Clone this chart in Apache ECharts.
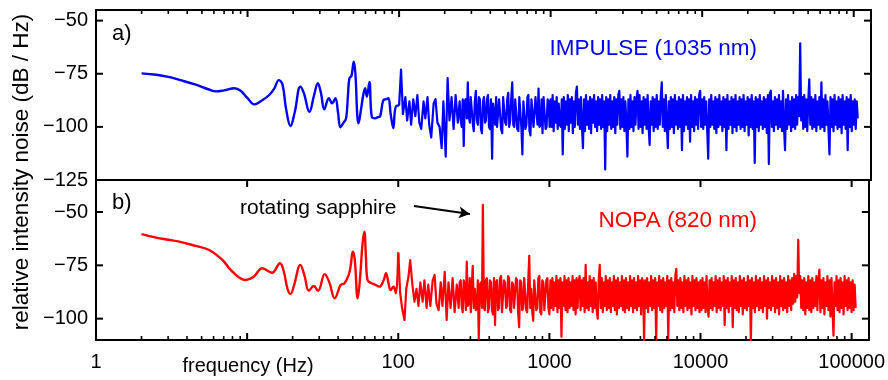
<!DOCTYPE html>
<html><head><meta charset="utf-8">
<script src="https://cdn.jsdelivr.net/npm/echarts@6/dist/echarts.min.js"></script>
<style>html,body{margin:0;padding:0;background:#fff}#c{width:888px;height:380px}</style>
</head><body><div id="c"></div>
<script>
// ---------- data ----------
const xMajorTicks = [1, 10, 100, 1000, 10000, 100000];
const xLabelTicks = [1, 100, 1000, 10000, 100000];
const xMinorTicks = [2,3,4,5,6,7,8,9, 20,30,40,50,60,70,80,90, 200,300,400,500,600,700,800,900,
  2000,3000,4000,5000,6000,7000,8000,9000, 20000,30000,40000,50000,60000,70000,80000,90000];
const yLabelsTop = [-125, -100, -75, -50];
const yTicksPanel = [-100, -75, -50];

// low-frequency part (smooth)
const blueLowFreq = [2,2.5,3,3.55,4.5,5.5,6.2,7,8.2,9,10,11.1,12.5,13.9,15,16.1,17,18,19.2,20.5,22.3,23.5,25.6,27.5,29.1,30.5,32.1,34.4,36.1,38,39.5,41,43,44.7,46,47,48.5,50.2,51.5,53,53.9,56,58,59.7,61.3,63.7,66,69.5,72,75,78.7,82,85,88,91.6,94,96.9,100];
const blueLowVal  = [-74.8,-75.5,-76.5,-77.9,-80,-82.3,-83.3,-82.8,-81.8,-83,-86.5,-89.4,-87.5,-85,-82,-78,-80,-92,-99.6,-93,-81.1,-84,-92.9,-85,-79.5,-84,-91.7,-86.5,-88.9,-86.5,-93,-100.2,-98,-96,-85,-77.1,-76,-69.3,-75,-95,-98.3,-92,-85,-81.8,-85.8,-78.8,-95.2,-96,-95.5,-95,-87.4,-87,-86.5,-94,-100.7,-92,-90,-90];
const redLowFreq = [2,2.5,3,3.55,4.5,5.6,6.86,8,9.8,11,12.6,14.6,16.5,17.5,18.5,19.4,20.5,22.5,24,25.6,27.6,29.5,32.6,35,38,41.6,44,47,48.5,50,51.5,53.9,56,58,59.7,61,62.6,66,70,75,80,83,86,89,93,96.5,100];
const redLowVal  = [-60.4,-62,-63,-63.9,-65.8,-67.8,-72.5,-78,-81.9,-80.5,-76.4,-78.5,-74,-78,-86,-88.4,-84,-74.8,-80,-86.9,-84.7,-86.9,-79.1,-83,-90.4,-84.2,-83.5,-79.5,-75,-68.6,-72,-90.5,-80,-65,-59.2,-70,-81.9,-83.3,-84,-85,-82,-78.7,-83,-86.6,-85,-88.1,-69];

// high-frequency (noise) part, shared frequency grid
const noiseFreq = [
  100,103,106,110,113,117,120,124,128,132,136,140,145,149,154,
  158,163,169,174,179,185,191,196,203,209,215,222,229,236,244,
  251,255,259,263,267,271,275,280,284,288,
  293,297,302,307,311,316,321,326,331,336,
  341,347,352,358,363,369,374,380,386,392,
  398,404,411,417,423,430,437,443,450,457,
  464,471,479,486,494,501,509,517,525,533,
  541,550,558,567,575,584,593,602,612,621,
  631,641,651,661,671,681,692,703,713,725,
  736,747,759,771,782,794,807,819,832,845,
  858,871,884,898,912,926,940,955,970,985,
  1000,1016,1031,1047,1063,1080,1096,1113,1131,1148,
  1166,1184,1202,1221,1240,1259,1279,1298,1318,1339,
  1359,1380,1402,1424,1445,1468,1491,1514,1537,1561,
  1585,1609,1634,1660,1685,1711,1738,1765,1792,1820,
  1848,1876,1905,1935,1965,1995,2026,2057,2089,2122,
  2154,2188,2222,2256,2291,2326,2362,2399,2436,2474,
  2512,2551,2590,2630,2671,2712,2754,2797,2840,2884,
  2929,2974,3020,3067,3114,3162,3211,3261,3311,3363,
  3415,3467,3521,3576,3631,3687,3744,3802,3861,3920,
  3981,4043,4105,4169,4233,4299,4365,4433,4501,4571,
  4642,4713,4786,4860,4936,5012,5089,5168,5248,5329,
  5412,5495,5580,5667,5754,5843,5934,6026,6119,6214,
  6310,6407,6506,6607,6709,6813,6918,7025,7134,7244,
  7356,7470,7586,7703,7822,7943,8066,8191,8318,8446,
  8577,8710,8844,8981,9120,9261,9404,9550,9698,9848,
  10000,10160,10310,10470,10630,10800,10960,11130,11310,11480,
  11660,11840,12020,12210,12400,12590,12790,12980,13180,13390,
  13590,13800,14020,14240,14450,14680,14910,15140,15370,15610,
  15850,16090,16340,16600,16850,17110,17380,17650,17920,18200,
  18480,18760,19050,19350,19650,19950,20260,20570,20890,21220,
  21540,21880,22220,22560,22910,23260,23620,23990,24360,24740,
  25120,25510,25900,26300,26710,27120,27540,27970,28400,28840,
  29290,29740,30200,30670,31140,31620,32110,32610,33110,33630,
  34150,34670,35210,35760,36310,36870,37440,38020,38610,39200,
  39810,40430,41050,41690,42330,42990,43650,44330,45010,45710,
  46420,47130,47860,48600,49360,50120,50890,51680,52480,53290,
  54120,54950,55800,56670,57540,58430,59340,60260,61190,62140,
  63100,64070,65060,66070,67090,68130,69180,70250,71340,72440,
  73560,74700,75860,77030,78220,79430,80660,81910,83180,84460,
  85770,87100,88440,89810,91200,92610,94040,95500,96980,98480,
  100000,101550,103100,104700,106300
];
const blueNoise = [
  -90,-73,-94,-86,-97,-88,-99,-87,-95,-85,-98,-101,-88,-96,-86,
  -99,-105,-89,-87,-98,-100,-110,-88,-114,-77,-97,-86,-101,-85,-98,
  -88,-97,-100,-87,-109,-88,-87,-96,-79,-95,
  -98,-86,-86,-99,-102,-88,-83,-97,-99,-86,
  -87,-101,-103,-88,-86,-98,-97,-87,-85,-100,
  -101,-87,-115,-89,-89,-99,-86,-100,-100,-87,
  -87,-101,-103,-86,-86,-98,-99,-87,-84,-100,
  -97,-86,-79,-99,-100,-87,-87,-101,-102,-86,
  -86,-100,-113,-88,-88,-101,-99,-86,-85,-102,
  -104,-87,-87,-100,-100,-86,-86,-99,-82,-100,
  -99,-87,-103,-86,-86,-101,-100,-87,-88,-100,
  -87,-100,-85,-102,-88,-98,-86,-101,-89,-99,
  -100,-87,-113,-86,-101,-88,-99,-85,-102,-87,
  -98,-86,-103,-88,-100,-84,-81,-99,-87,-101,
  -86,-100,-110,-87,-102,-85,-99,-88,-101,-86,
  -103,-87,-98,-85,-100,-88,-102,-86,-99,-87,
  -101,-85,-100,-88,-120,-86,-102,-87,-99,-85,
  -101,-88,-100,-86,-103,-87,-99,-85,-83,-101,
  -87,-100,-86,-102,-88,-99,-114,-87,-101,-85,
  -100,-88,-102,-86,-99,-87,-83,-101,-85,-100,
  -88,-103,-86,-99,-87,-101,-85,-100,-108.5,-88,
  -99,-86,-102,-87,-100,-85,-101,-88,-99,-86,
  -79,-100,-87,-102,-85,-99,-110,-88,-101,-86,
  -100,-87,-103,-85,-99,-88,-101,-86,-100,-87,
  -111,-85,-102,-88,-99,-86,-101,-87,-107,-85,
  -100,-88,-102,-86,-99,-87,-101,-85,-83,-100,
  -87,-101,-86,-99,-88,-102,-115,-87,-100,-85,
  -99,-88,-101,-86,-103,-87,-100,-85,-99,-88,
  -102,-86,-100,-87,-111,-85,-101,-88,-99,-86,
  -103,-87,-100,-85,-102,-88,-99,-86,-101,-87,
  -100,-85,-102,-88,-99,-86,-104,-87,-100,-85,
  -101,-88,-117,-86,-100,-87,-102,-85,-99,-88,
  -101,-86,-100,-87,-103,-85,-117.5,-84,-83,-100,
  -88,-102,-86,-99,-87,-101,-85,-100,-88,-102,
  -83,-100,-111,-87,-101,-85,-99,-88,-102,-86,
  -100,-87,-101,-85,-99,-86,-95,-60.7,-97,-86,
  -101,-85,-100,-87,-102,-88,-77.6,-99,-86,-101,
  -87,-100,-85,-102,-88,-99,-86,-101,-79,-100,
  -87,-102,-85,-99,-88,-101,-113,-86,-100,-87,
  -102,-85,-99,-88,-101,-86,-100,-87,-103,-85,
  -99,-88,-101,-86,-111,-87,-100,-85,-102,-88,
  -99,-87,-101,-88,-96
];
const redNoise = [
  -69,-88,-95,-100.6,-86,-80,-72.5,-84,-92,-86,-94,-83,-92,-82,-95,
  -84,-94,-82,-79.5,-93,-96,-83,-94,-78,-100.6,-83,-95,-81,-97,-84,
  -95,-83,-82,-94,-97,-82,-84,-96,-73.3,-94,
  -93,-81,-97,-84,-75.2,-95,-86,-96,-95,-82,
  -109.5,-84,-83,-95,-46.7,-95,-96,-82,-81,-97,
  -95,-82,-83,-96,-98,-81,-103,-83,-82,-96,
  -95,-81,-80,-97,-97,-82,-83,-95,-94,-80,
  -81,-96,-97,-83,-84,-95,-95,-81,-82,-97,
  -104,-82,-83,-96,-95,-81,-81,-96,-97,-82,
  -70.6,-95,-86,-97,-101,-82,-82,-96,-95,-81,
  -80,-97,-98,-82,-83,-96,-96,-82,-81,-95,
  -98,-82,-95,-81,-96,-83,-94,-80,-97,-82,
  -95,-81,-108.5,-83,-94,-80,-96,-82,-97,-81,
  -95,-83,-94,-80,-96,-82,-98,-81,-95,-83,
  -80,-96,-82,-94,-81,-97,-74.8,-95,-83,-96,
  -80,-94,-82,-97,-81,-95,-83,-96,-100,-82,
  -74.8,-95,-81,-97,-83,-94,-80,-96,-82,-95,
  -81,-97,-83,-94,-80,-96,-82,-98,-81,-95,
  -83,-94,-80,-96,-82,-97,-81,-95,-83,-96,
  -80,-94,-82,-97,-81,-95,-83,-96,-80,-94,
  -82,-98,-81,-83,-110,-82,-95,-81,-97,-83,
  -94,-80,-96,-82,-95,-81,-110,-83,-94,-80,
  -96,-82,-97,-81,-95,-83,-94,-80,-109.5,-82,
  -96,-81,-95,-83,-97,-80,-76.7,-94,-82,-96,
  -81,-95,-83,-97,-80,-94,-82,-96,-81,-95,
  -83,-98,-80,-94,-82,-96,-81,-95,-83,-97,
  -82,-96,-81,-95,-83,-97,-80,-94,-99,-82,
  -95,-81,-96,-83,-94,-80,-97,-82,-95,-81,
  -96,-83,-94,-80,-103,-82,-95,-81,-97,-83,
  -94,-80,-104,-82,-95,-81,-96,-83,-97,-80,
  -94,-82,-98,-81,-95,-83,-96,-80,-94,-82,
  -111.4,-81,-95,-83,-97,-80,-94,-82,-96,-81,
  -95,-83,-97,-80,-94,-82,-100,-81,-95,-83,
  -96,-80,-94,-82,-97,-81,-95,-83,-98,-80,
  -94,-82,-96,-81,-95,-83,-97,-80,-94,-82,
  -96,-81,-93,-79,-92,-80,-90,-63.1,-88,-80,
  -95,-82,-96,-81,-98,-83,-95,-80,-96,-82,
  -97,-81,-95,-83,-94,-80,-96,-82,-77,-97,
  -82,-95,-81,-98,-83,-94,-80,-96,-82,-99,
  -81,-95,-108,-83,-94,-80,-96,-82,-97,-81,
  -95,-83,-98,-80,-94,-82,-96,-81,-95,-83,
  -97,-82,-96,-84,-95
];

// ---------- chart ----------
const FONT = '"Liberation Sans", Arial, sans-serif';
const BLUE = '#0000ff', RED = '#ff0000';
const pair = (fs, vs) => fs.map((f, i) => [f, vs[i]]);
const minus = v => String(v).replace('-', '\u2212');
const X_MIN = 1, X_MAX = 130000;
const TOP_MIN = -125, TOP_MAX = -45, BOT_MIN = -110, BOT_MAX = -35;

function xAx(grid, pos, opts) {
  return Object.assign({
    type: 'log', logBase: 10, gridIndex: grid, position: pos, min: X_MIN, max: X_MAX,
    axisLine: { show: true, onZero: false, lineStyle: { color: '#000', width: 2 } },
    axisTick: { show: false },
    axisLabel: { show: false },
    splitLine: { show: false }, minorTick: { show: false }, minorSplitLine: { show: false }
  }, opts);
}
function yAx(grid, pos, min, max, labels) {
  return {
    type: 'value', gridIndex: grid, position: pos, min: min, max: max,
    axisLine: { show: true, onZero: false, lineStyle: { color: '#000', width: 2 } },
    axisTick: { show: false },
    axisLabel: labels ? { show: true, customValues: labels, formatter: minus, fontSize: 20, fontFamily: FONT, color: '#000', margin: 8 } : { show: false },
    splitLine: { show: false }
  };
}

// tick marks placed through the axes' own scales: small rect symbols at the frame, pushed inward
function tickMarks(xIdx, yIdx, points, size, offset) {
  return {
    type: 'scatter', xAxisIndex: xIdx, yAxisIndex: yIdx, data: points, clip: false, silent: true, z: 10,
    symbol: 'rect', symbolSize: size, symbolOffset: offset,
    itemStyle: { color: '#000', opacity: 1 }, emphasis: { disabled: true }, animation: false
  };
}
const xt = (vals, y) => vals.map(v => [v, y]);
const yt = (vals, x) => vals.map(v => [x, v]);

const option = {
  animation: false,
  backgroundColor: '#fff',
  grid: [
    { left: 96, top: 10, width: 775, height: 170 },
    { left: 96, top: 180, width: 775, height: 160 }
  ],
  xAxis: [
    xAx(0, 'bottom', {}),
    xAx(0, 'top', {}),
    xAx(1, 'bottom', {
      axisLabel: { show: true, customValues: xLabelTicks, formatter: v => String(v), fontSize: 20, fontFamily: FONT, color: '#000', margin: 12 } }),
    xAx(1, 'top', {})
  ],
  yAxis: [
    yAx(0, 'left', TOP_MIN, TOP_MAX, yLabelsTop),
    yAx(0, 'right', TOP_MIN, TOP_MAX, null),
    yAx(1, 'left', BOT_MIN, BOT_MAX, yTicksPanel),
    yAx(1, 'right', BOT_MIN, BOT_MAX, null)
  ],
  series: [
    { type: 'line', xAxisIndex: 0, yAxisIndex: 0, data: pair(blueLowFreq, blueLowVal), smooth: 0.4, showSymbol: false, symbol: 'none',
      lineStyle: { color: BLUE, width: 2.4 }, z: 3 },
    { type: 'line', xAxisIndex: 0, yAxisIndex: 0, data: pair(noiseFreq, blueNoise), showSymbol: false, symbol: 'none',
      lineStyle: { color: BLUE, width: 2.2, join: 'round' }, z: 3 },
    { type: 'line', xAxisIndex: 2, yAxisIndex: 2, data: pair(redLowFreq, redLowVal), smooth: 0.4, showSymbol: false, symbol: 'none',
      lineStyle: { color: RED, width: 2.4 }, z: 3 },
    { type: 'line', xAxisIndex: 2, yAxisIndex: 2, data: pair(noiseFreq, redNoise), showSymbol: false, symbol: 'none',
      lineStyle: { color: RED, width: 2.2, join: 'round' }, z: 3,
      markLine: { silent: true, symbol: ['none', 'arrow'], symbolSize: [9, 11], animation: false,
        lineStyle: { color: '#000', width: 2, type: 'solid' }, label: { show: false },
        data: [[{ coord: [127, -47.2] }, { coord: [298, -50.9] }]] } },
    // x ticks: top of panel a (major + minor), bottom of panel b (major + minor), top of panel b (major only)
    tickMarks(0, 0, xt(xMajorTicks, TOP_MAX), [2, 7], [0, 3.5]),
    tickMarks(0, 0, xt(xMinorTicks, TOP_MAX), [1.6, 4], [0, 2]),
    tickMarks(2, 2, xt(xMajorTicks, BOT_MIN), [2, 7], [0, -3.5]),
    tickMarks(2, 2, xt(xMinorTicks, BOT_MIN), [1.6, 4], [0, -2]),
    tickMarks(2, 2, xt(xMajorTicks, BOT_MAX), [2, 7], [0, 3.5]),
    // y ticks, inside on both sides
    tickMarks(0, 0, yt(yTicksPanel, X_MIN), [7, 2], [3.5, 0]),
    tickMarks(0, 0, yt(yTicksPanel, X_MAX), [7, 2], [-3.5, 0]),
    tickMarks(2, 2, yt(yTicksPanel, X_MIN), [7, 2], [3.5, 0]),
    tickMarks(2, 2, yt(yTicksPanel, X_MAX), [7, 2], [-3.5, 0])
  ],
  graphic: [
    { type: 'text', x: 22, y: 172, rotation: Math.PI / 2,
      style: { text: 'relative intensity noise (dB / Hz)', fontSize: 22.5, fontFamily: FONT, fill: '#000', align: 'center', verticalAlign: 'middle' } },
    { type: 'text', x: 248, y: 366,
      style: { text: 'frequency (Hz)', fontSize: 20, fontFamily: FONT, fill: '#000', align: 'center', verticalAlign: 'middle' } },
    { type: 'text', x: 112, y: 34,
      style: { text: 'a)', fontSize: 22, fontFamily: FONT, fill: '#000', align: 'left', verticalAlign: 'middle' } },
    { type: 'text', x: 112, y: 203,
      style: { text: 'b)', fontSize: 22, fontFamily: FONT, fill: '#000', align: 'left', verticalAlign: 'middle' } },
    { type: 'text', x: 757, y: 49,
      style: { text: 'IMPULSE (1035 nm)', fontSize: 22.5, fontFamily: FONT, fill: BLUE, align: 'right', verticalAlign: 'middle' } },
    { type: 'text', x: 757, y: 221,
      style: { text: 'NOPA (820 nm)', fontSize: 22.5, fontFamily: FONT, fill: RED, align: 'right', verticalAlign: 'middle' } },
    { type: 'text', x: 240, y: 208,
      style: { text: 'rotating sapphire', fontSize: 21, fontFamily: FONT, fill: '#000', align: 'left', verticalAlign: 'middle' } }
  ]
};
const chart = echarts.init(document.getElementById('c'), null, { renderer: 'canvas' });
chart.setOption(option);
</script></body></html>
